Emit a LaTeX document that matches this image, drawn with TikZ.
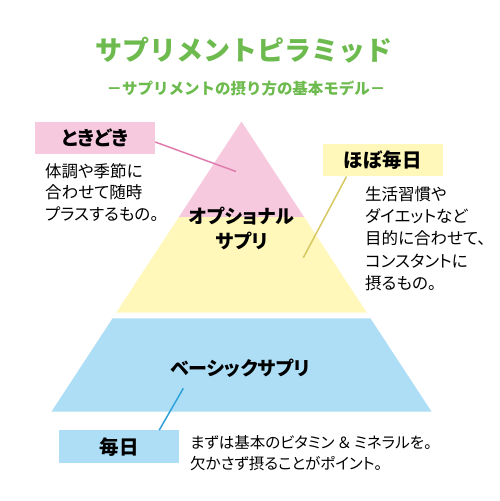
\documentclass[tikz,border=0pt]{standalone}
\usepackage{fontspec}
\newfontfamily\jp[RawFeature=+palt]{Noto Sans CJK JP}
\newfontfamily\jpmono{Noto Sans CJK JP}
\usetikzlibrary{calc,positioning}
\definecolor{pyrpink}{HTML}{F6C9DE}
\definecolor{pyryellow}{HTML}{FFF8BA}
\definecolor{pyrblue}{HTML}{ADDEF6}
\definecolor{linepink}{HTML}{E07BAD}
\definecolor{lineyellow}{HTML}{D8C862}
\definecolor{lineblue}{HTML}{2FA2DA}
\definecolor{titlegreen}{HTML}{6DBB4F}

\begin{document}
\begin{tikzpicture}[x=1pt,y=-1pt,font=\jp,
  labelbox/.style={minimum width=120pt,minimum height=32.6pt,inner sep=0pt,font=\jp\fontsize{19.5}{22}\selectfont\bfseries},
  bodytext/.style={anchor=north west,align=left,inner sep=0pt},
  tiername/.style={align=center,inner sep=0pt,font=\jp\fontsize{19}{25}\selectfont\bfseries},
  link/.style={line width=1.5pt}]
  \useasboundingbox (0,0) rectangle (500,501);
  \fill[white] (0,0) rectangle (500,501);
  % pyramid
  \fill[pyrpink] (241.5,121.5) -- (178.9,217) -- (304.1,217) -- cycle;
  \fill[pyryellow] (178.9,217) -- (304.1,217) -- (366.8,312.7) -- (116.2,312.7) -- cycle;
  \fill[pyrblue] (112.6,318.3) -- (370.4,318.3) -- (431.6,411.7) -- (51.4,411.7) -- cycle;
  % title
  \node[text=titlegreen,font=\jpmono\fontsize{27}{30}\selectfont\bfseries] (title) at (244,50) {サプリメントピラミッド};
  \node[text=titlegreen,font=\jpmono\fontsize{15.5}{18}\selectfont\bfseries] (subtitle) at (246,88) {－サプリメントの摂り方の基本モデル－};
  % tiers
  \node[tiername] (optional) at (241.5,228) {オプショナル\\サプリ};
  \node[tiername] (basic) at (240,368) {ベーシックサプリ};
  % labels
  \node[labelbox,fill=pyrpink] (tokidoki) at (95,138) {ときどき};
  \node[labelbox,fill=pyryellow] (hobo) at (382.7,160) {ほぼ毎日};
  \node[labelbox,fill=pyrblue] (mainichi) at (119,446.7) {毎日};
  \node[bodytext,font=\jp\fontsize{16.5}{21.5}\selectfont] (tokidokitext) at (45,163) {体調や季節に\\合わせて随時\\プラスするもの。};
  \node[bodytext,font=\jp\fontsize{16.5}{22.2}\selectfont] (hobotext) at (365,186.5) {生活習慣や\\ダイエットなど\\目的に合わせて、\\コンスタントに\\摂るもの。};
  \node[bodytext,font=\jp\fontsize{15.5}{21}\selectfont] (mainichitext) at (190,435) {まずは基本のビタミン ＆ ミネラルを。\\欠かさず摂ることがポイント。};
  % connectors
  \coordinate (pinkend) at (236,171.5);
  \coordinate (yellowend) at (303.3,257.7);
  \coordinate (blueend) at (183.3,388.3);
  \draw[link,linepink] ([yshift=-4pt]tokidoki.east) -- (pinkend);
  \draw[link,lineyellow] ([xshift=24pt]hobo.south west) -- (yellowend);
  \draw[link,lineblue] (blueend) -- ([xshift=-20pt]mainichi.north east);
\end{tikzpicture}
\end{document}
